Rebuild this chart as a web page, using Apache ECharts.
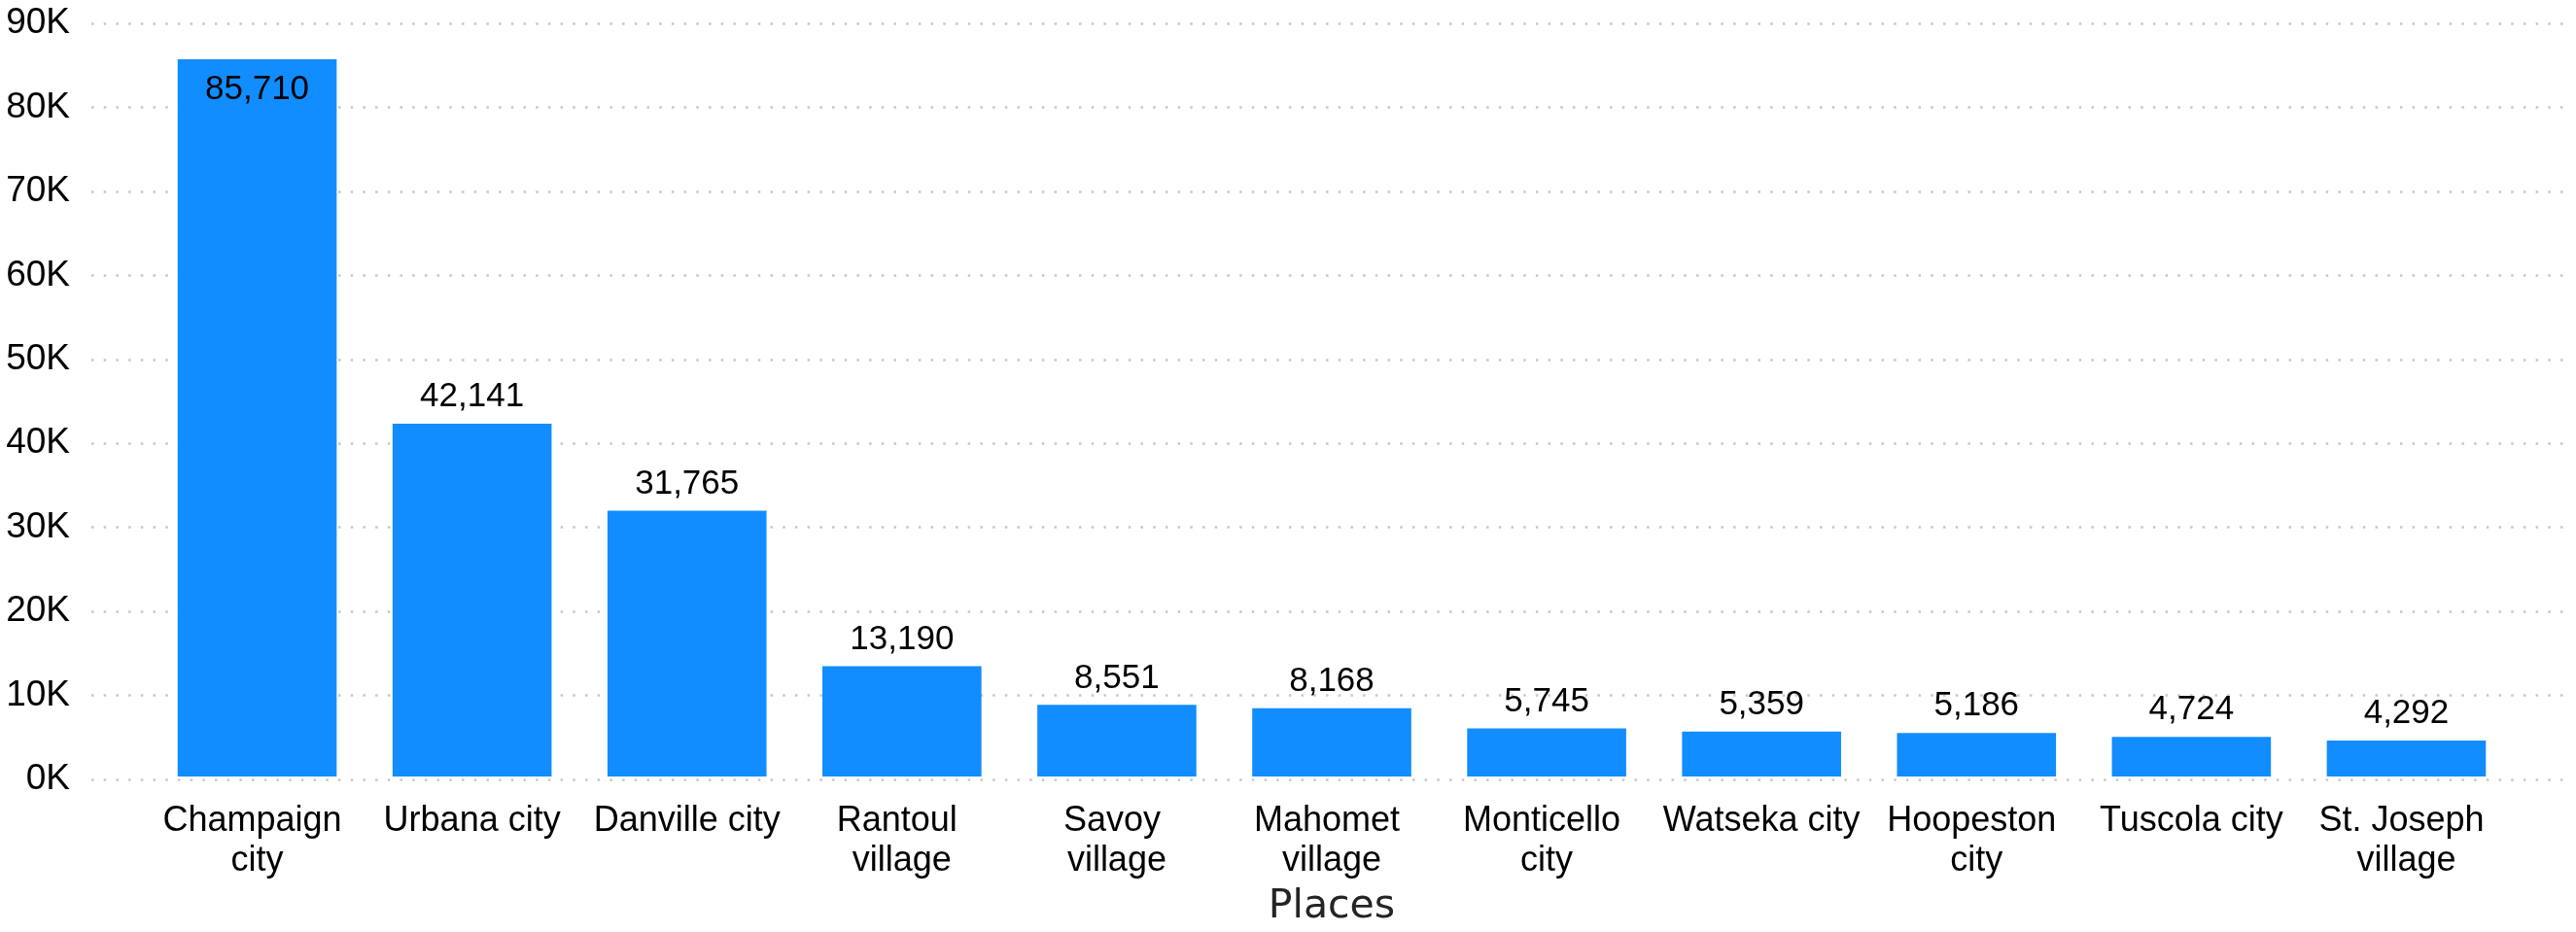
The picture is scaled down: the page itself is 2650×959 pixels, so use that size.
<!DOCTYPE html>
<html>
<head>
    <meta charset="utf-8" />
    <title>Places</title>
    <script src="https://cdn.jsdelivr.net/npm/echarts@6/dist/echarts.min.js"></script>
    <style>
        html, body { margin: 0; padding: 0; background: #fff; }
        #main { width: 2650px; height: 959px; }
    </style>
</head>
<body>
    <div id="main"></div>
    <script type="text/javascript">
        var places = ['Champaign city', 'Urbana city', 'Danville city', 'Rantoul village', 'Savoy village',
            'Mahomet village', 'Monticello city', 'Watseka city', 'Hoopeston city', 'Tuscola city', 'St. Joseph village'];
        var population = [85710, 42141, 31765, 13190, 8551, 8168, 5745, 5359, 5186, 4724, 4292];
        var yMin = 0;
        var yMax = 90000;
        var yStep = 10000;

        var font = "'Liberation Sans', Arial, sans-serif";
        var chart = echarts.init(document.getElementById('main'));

        // the label of the first bar sits inside it, the rest on top
        var barData = population.map(function (v, i) {
            var item = { value: v };
            if (i === 0) {
                item.label = { position: 'insideTop', distance: 14 };
            }
            return item;
        });

        var option = {
            animation: false,
            // grid 0 carries the y labels and the dotted lines, grid 1 the bars
            grid: [
                { left: 94, right: 4, top: 24, bottom: 157 },
                { left: 154, right: 64, top: 24, bottom: 157 }
            ],
            xAxis: [{
                gridIndex: 0,
                type: 'value',
                min: 0,
                max: 1,
                show: false
            }, {
                gridIndex: 1,
                type: 'category',
                data: places,
                name: 'Places',
                nameLocation: 'middle',
                nameGap: 114,
                nameTextStyle: {
                    fontFamily: "'DejaVu Sans', sans-serif",
                    fontSize: 41,
                    color: '#252423'
                },
                axisLine: { show: false },
                axisTick: { show: false },
                axisLabel: {
                    interval: 0,
                    margin: 26,
                    fontFamily: font,
                    fontSize: 36,
                    lineHeight: 41,
                    color: '#000',
                    width: 208,
                    overflow: 'break'
                }
            }],
            yAxis: [{
                gridIndex: 0,
                type: 'value',
                min: yMin,
                max: yMax,
                interval: yStep,
                axisLine: { show: false },
                axisTick: { show: false },
                axisLabel: {
                    margin: 22,
                    fontFamily: font,
                    fontSize: 37,
                    color: '#000',
                    formatter: function (v) { return (v / 1000) + 'K'; }
                },
                splitLine: {
                    show: true,
                    lineStyle: { color: '#c8c8c8', width: 2.5, type: [2.5, 10.2] }
                }
            }, {
                gridIndex: 1,
                type: 'value',
                min: yMin,
                max: yMax,
                interval: yStep,
                show: false,
                splitLine: { show: false }
            }],
            series: [{
                type: 'bar',
                xAxisIndex: 1,
                yAxisIndex: 1,
                data: barData,
                barCategoryGap: '26%',
                itemStyle: { color: '#118DFF' },
                label: {
                    show: true,
                    position: 'top',
                    distance: 10,
                    fontFamily: font,
                    fontSize: 35,
                    color: '#000',
                    formatter: function (p) { return p.value.toLocaleString('en-US'); }
                }
            }]
        };
        chart.setOption(option, true);
    </script>
</body>
</html>
